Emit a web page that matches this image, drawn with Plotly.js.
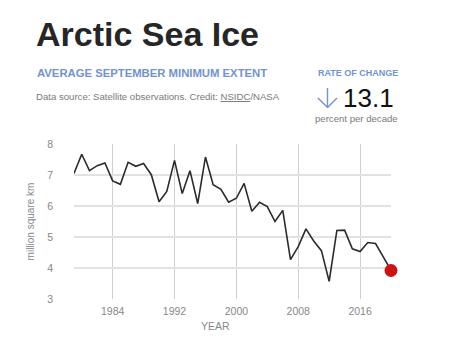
<!DOCTYPE html>
<html>
<head>
<meta charset="utf-8">
<script src="https://cdn.plot.ly/plotly-3.0.1.min.js"></script>
<style>html,body{margin:0;padding:0;background:#fff;}#chart{width:475px;height:343px;}</style>
</head>
<body>
<div id="chart"></div>
<script>
const years = [1979,1980,1981,1982,1983,1984,1985,1986,1987,1988,1989,1990,1991,1992,1993,1994,1995,1996,1997,1998,1999,2000,2001,2002,2003,2004,2005,2006,2007,2008,2009,2010,2011,2012,2013,2014,2015,2016,2017,2018,2019,2020];
const extent = [7.05,7.67,7.14,7.30,7.39,6.81,6.70,7.41,7.28,7.37,7.01,6.14,6.47,7.47,6.40,7.14,6.08,7.58,6.69,6.54,6.12,6.25,6.73,5.83,6.12,5.98,5.50,5.86,4.27,4.69,5.26,4.87,4.56,3.57,5.21,5.22,4.62,4.53,4.82,4.79,4.36,3.92];
const xTicks = [1984,1992,2000,2008,2016];
const yTicks = [3,4,5,6,7,8];
const rateValue = "13.1";

const L = 74, R = 391, T = 144, B = 299;
const px = x => (x - L) / (R - L);
const py = y => (B - y) / (B - T);
const FONT = "Liberation Sans, Arial, Helvetica, sans-serif";
const BLUE = "#7393cc";

const data = [
  {x: years, y: extent, type: "scatter", mode: "lines", cliponaxis: false,
   line: {color: "#2b2b2b", width: 1.6}, hoverinfo: "x+y"},
  {x: [years[years.length-1]], y: [extent[extent.length-1]], type: "scatter", mode: "markers",
   cliponaxis: false, marker: {color: "#cc1316", size: 13}, hoverinfo: "x+y"}
];

const ann = (x, y, text, size, color, extra) => Object.assign({
  xref: "paper", yref: "paper", x: px(x), y: py(y), text: text, showarrow: false,
  xanchor: "left", yanchor: "middle", font: {family: FONT, size: size, color: color}
}, extra || {});

const line = (x0, y0, x1, y1) => ({type: "line", xref: "paper", yref: "paper",
  x0: px(x0), y0: py(y0), x1: px(x1), y1: py(y1), line: {color: BLUE, width: 1.4}});

const layout = {
  width: 475, height: 343,
  margin: {l: L, r: 475 - R, t: T, b: 343 - B},
  paper_bgcolor: "#fff", plot_bgcolor: "#fff",
  showlegend: false,
  font: {family: FONT, color: "#888"},
  xaxis: {range: [1979, 2020], tickvals: xTicks, ticktext: xTicks.map(String),
          showgrid: true, gridcolor: "#cfcfcf", gridwidth: 1, zeroline: false,
          showline: false, ticks: "", ticklabelstandoff: 4, tickfont: {size: 10.5, color: "#888"}, fixedrange: true},
  yaxis: {range: [3, 8], tickvals: yTicks, showgrid: true, gridcolor: "#e2e2e2", gridwidth: 1.5,
          zeroline: false, showline: false, ticks: "", ticklabelstandoff: 20, tickfont: {size: 10.5, color: "#888"},
          title: {text: "million square km", font: {size: 10, color: "#888"}, standoff: 10},
          fixedrange: true},
  shapes: [
    line(327.5, 88, 327.5, 107.5),
    line(318, 98, 327.5, 107.5),
    line(337, 98, 327.5, 107.5)
  ],
  annotations: [
    ann(34, 34, "<b>Arctic Sea Ice</b>", 34, "#262626"),
    ann(35, 73, "<b>AVERAGE SEPTEMBER MINIMUM EXTENT</b>", 11.3, BLUE),
    ann(34, 96, "Data source: Satellite observations. Credit: <u>NSIDC</u>/NASA", 9.6, "#7a7a7a"),
    ann(316, 73, "<b>RATE OF CHANGE</b>", 9, BLUE),
    ann(341, 98, rateValue, 26, "#111"),
    ann(313, 119, "percent per decade", 9.6, "#7a7a7a"),
    ann(215, 326, "YEAR", 10.5, "#888", {xanchor: "center"})
  ]
};

Plotly.newPlot("chart", data, layout, {displayModeBar: false, staticPlot: true});
</script>
</body>
</html>
